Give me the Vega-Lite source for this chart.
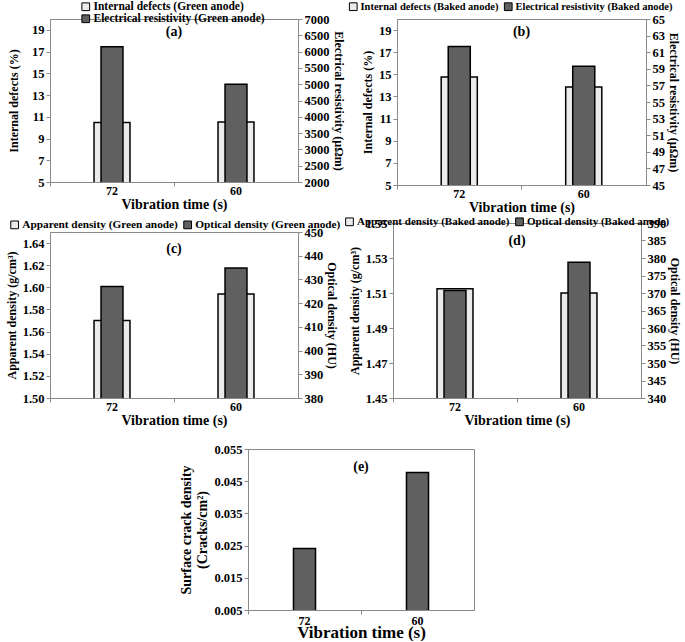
{
  "$schema": "https://vega.github.io/schema/vega-lite/v6.json",
  "padding": {"left": 4, "top": 1, "right": 0, "bottom": 0},
  "background": "white",
  "config": {
    "font": "Liberation Serif",
    "view": {"stroke": "#8a8a8a", "strokeWidth": 1},
    "axis": {"labelFont": "Liberation Serif", "labelFontWeight": "bold", "labelFontSize": 12.5, "labelColor": "black", "titleFont": "Liberation Serif", "titleFontWeight": "bold", "titleFontSize": 12, "titleColor": "black", "domainColor": "#8a8a8a", "tickColor": "#8a8a8a", "grid": false, "tickSize": 4, "labelPadding": 2, "labelOverlap": false, "labelFlush": false},
    "legend": {"labelFont": "Liberation Serif", "labelFontWeight": "bold", "labelFontSize": 11.5, "labelColor": "black", "symbolType": "square", "symbolSize": 60, "symbolStrokeColor": "black", "symbolStrokeWidth": 1, "labelOffset": 2, "columnPadding": 3, "rowPadding": -2, "padding": 0, "title": null, "labelLimit": 400}
  },
  "spacing": 14,
  "resolve": {"scale": {"color": "independent"}},
  "vconcat": [
    {
      "spacing": 1,
      "resolve": {"scale": {"color": "independent"}},
      "vconcat": [
        {
          "spacing": 3,
          "resolve": {"scale": {"color": "independent"}},
          "hconcat": [
            {"vconcat": [
            {
              "width": 248, "height": 163,
              "data": {"values": [{"t": "72", "left": 10.47, "right": 6150}, {"t": "60", "left": 10.53, "right": 5000}]},
              "layer": [
                {"layer": [
                  {"mark": {"type": "bar", "width": {"band": 0.29}, "stroke": "black", "strokeWidth": 1.5, "clip": true},
                   "encoding": {
                     "x": {"field": "t", "type": "nominal", "sort": ["72", "60"], "scale": {"paddingInner": 0, "paddingOuter": 0}, "axis": {"title": "Vibration time (s)", "labelAngle": 0, "bandPosition": 0, "labelPadding": -1, "titlePadding": 1, "labelFontSize": 12, "titleFontSize": 14}},
                     "y": {"field": "left", "type": "quantitative", "scale": {"domain": [5, 20], "nice": false, "zero": false}, "axis": {"values": [5, 7, 9, 11, 13, 15, 17, 19], "format": "d", "labelOverlap": false, "titlePadding": 11, "title": "Internal defects (%)"}},
                     "color": {"datum": "Internal defects (Green anode)", "type": "nominal", "scale": {"domain": ["Internal defects (Green anode)", "Electrical resistivity (Green anode)"], "range": ["#ebebeb", "#606060"]}, "legend": {"orient": "none", "legendX": 30, "legendY": -18, "direction": "vertical"}}
                   }},
                  {"data": {"values": [{"label": "(a)"}]}, "mark": {"type": "text", "fontSize": 14, "fontWeight": "bold", "font": "Liberation Serif"}, "encoding": {"text": {"field": "label"}, "y": {"datum": 18.8, "type": "quantitative", "axis": {"values": [5, 7, 9, 11, 13, 15, 17, 19], "format": "d", "labelOverlap": false, "titlePadding": 11, "title": "Internal defects (%)"}}}}
                ]},
                {"mark": {"type": "bar", "width": {"band": 0.177}, "stroke": "black", "strokeWidth": 1.5, "clip": true},
                 "encoding": {
                   "x": {"field": "t", "type": "nominal", "sort": ["72", "60"]},
                   "y": {"field": "right", "type": "quantitative", "scale": {"domain": [2000, 7000], "nice": false, "zero": false}, "axis": {"orient": "right", "values": [2000, 2500, 3000, 3500, 4000, 4500, 5000, 5500, 6000, 6500, 7000], "format": "d", "titlePadding": 2, "title": "Electrical resistivity (µΩm)"}},
                   "color": {"datum": "Electrical resistivity (Green anode)", "type": "nominal"}
                 }}
              ],
              "resolve": {"scale": {"y": "independent"}}
            }]},
            {"vconcat": [
            {
              "width": 249, "height": 166,
              "data": {"values": [{"t": "72", "left": 14.76, "right": 61.7}, {"t": "60", "left": 13.86, "right": 59.3}]},
              "layer": [
                {"layer": [
                  {"mark": {"type": "bar", "width": {"band": 0.29}, "stroke": "black", "strokeWidth": 1.5, "clip": true},
                   "encoding": {
                     "x": {"field": "t", "type": "nominal", "sort": ["72", "60"], "scale": {"paddingInner": 0, "paddingOuter": 0}, "axis": {"title": "Vibration time (s)", "labelAngle": 0, "bandPosition": 0, "labelPadding": -1, "titlePadding": 1, "labelFontSize": 12, "titleFontSize": 14}},
                     "y": {"field": "left", "type": "quantitative", "scale": {"domain": [5, 20], "nice": false, "zero": false}, "axis": {"values": [5, 7, 9, 11, 13, 15, 17, 19], "format": "d", "labelOverlap": false, "title": "Internal defects (%)"}},
                     "color": {"datum": "Internal defects (Baked anode)", "type": "nominal", "scale": {"domain": ["Internal defects (Baked anode)", "Electrical resistivity (Baked anode)"], "range": ["#ebebeb", "#606060"]}, "legend": {"orient": "none", "legendX": -49, "legendY": -18, "direction": "horizontal", "labelFontSize": 10.5}}
                   }},
                  {"data": {"values": [{"label": "(b)"}]}, "mark": {"type": "text", "fontSize": 14, "fontWeight": "bold", "font": "Liberation Serif"}, "encoding": {"text": {"field": "label"}, "y": {"datum": 18.8, "type": "quantitative", "axis": {"values": [5, 7, 9, 11, 13, 15, 17, 19], "format": "d", "labelOverlap": false, "title": "Internal defects (%)"}}}}
                ]},
                {"mark": {"type": "bar", "width": {"band": 0.177}, "stroke": "black", "strokeWidth": 1.5, "clip": true},
                 "encoding": {
                   "x": {"field": "t", "type": "nominal", "sort": ["72", "60"]},
                   "y": {"field": "right", "type": "quantitative", "scale": {"domain": [45, 65], "nice": false, "zero": false}, "axis": {"orient": "right", "values": [45, 47, 49, 51, 53, 55, 57, 59, 61, 63, 65], "format": "d", "titlePadding": 2, "title": "Electrical resistivity (µΩm)"}},
                   "color": {"datum": "Electrical resistivity (Baked anode)", "type": "nominal"}
                 }}
              ],
              "resolve": {"scale": {"y": "independent"}}
            }]}
          ]
        },
        {
          "spacing": 3,
          "resolve": {"scale": {"color": "independent"}},
          "hconcat": [
            {
              "spacing": 0,
              "vconcat": [
                {"width": 248, "height": 2, "view": {"stroke": null}, "data": {"values": []}, "mark": "point", "encoding": {}},
                {
                  "width": 248, "height": 166,
                  "data": {"values": [{"t": "72", "left": 1.570, "right": 427}, {"t": "60", "left": 1.594, "right": 434.8}]},
                  "layer": [
                    {"layer": [
                      {"mark": {"type": "bar", "width": {"band": 0.29}, "stroke": "black", "strokeWidth": 1.5, "clip": true},
                       "encoding": {
                         "x": {"field": "t", "type": "nominal", "sort": ["72", "60"], "scale": {"paddingInner": 0, "paddingOuter": 0}, "axis": {"title": "Vibration time (s)", "labelAngle": 0, "bandPosition": 0, "labelPadding": -1, "titlePadding": 1, "labelFontSize": 12, "titleFontSize": 14}},
                         "y": {"field": "left", "type": "quantitative", "scale": {"domain": [1.5, 1.65], "nice": false, "zero": false}, "axis": {"values": [1.5, 1.52, 1.54, 1.56, 1.58, 1.6, 1.62, 1.64], "format": ".2f", "labelOverlap": false, "title": "Apparent density (g/cm³)"}},
                         "color": {"datum": "Apparent density (Green anode)", "type": "nominal", "scale": {"domain": ["Apparent density (Green anode)", "Optical density (Green anode)"], "range": ["#ebebeb", "#606060"]}, "legend": {"orient": "none", "legendX": -41, "legendY": -4, "direction": "horizontal", "labelFontSize": 11.3}}
                       }},
                      {"data": {"values": [{"label": "(c)"}]}, "mark": {"type": "text", "fontSize": 14, "fontWeight": "bold", "font": "Liberation Serif"}, "encoding": {"text": {"field": "label"}, "y": {"datum": 1.635, "type": "quantitative", "axis": {"values": [1.5, 1.52, 1.54, 1.56, 1.58, 1.6, 1.62, 1.64], "format": ".2f", "labelOverlap": false, "title": "Apparent density (g/cm³)"}}}}
                    ]},
                    {"mark": {"type": "bar", "width": {"band": 0.177}, "stroke": "black", "strokeWidth": 1.5, "clip": true},
                     "encoding": {
                       "x": {"field": "t", "type": "nominal", "sort": ["72", "60"]},
                       "y": {"field": "right", "type": "quantitative", "scale": {"domain": [380, 450], "nice": false, "zero": false}, "axis": {"orient": "right", "values": [380, 390, 400, 410, 420, 430, 440, 450], "format": "d", "titlePadding": 2, "title": "Optical density (HU)"}},
                       "color": {"datum": "Optical density (Green anode)", "type": "nominal"}
                     }}
                  ],
                  "resolve": {"scale": {"y": "independent"}}
                }
              ]
            },
            {"vconcat": [
            {
              "width": 248, "height": 175,
              "data": {"values": [{"t": "72", "left": 1.5125, "right": 370.7}, {"t": "60", "left": 1.510, "right": 378.8}]},
              "layer": [
                {"layer": [
                  {"mark": {"type": "bar", "width": {"band": 0.29}, "stroke": "black", "strokeWidth": 1.5, "clip": true},
                   "encoding": {
                     "x": {"field": "t", "type": "nominal", "sort": ["72", "60"], "scale": {"paddingInner": 0, "paddingOuter": 0}, "axis": {"title": "Vibration time (s)", "labelAngle": 0, "bandPosition": 0, "labelPadding": -1, "titlePadding": 1, "labelFontSize": 12, "titleFontSize": 14}},
                     "y": {"field": "left", "type": "quantitative", "scale": {"domain": [1.45, 1.55], "nice": false, "zero": false}, "axis": {"values": [1.45, 1.47, 1.49, 1.51, 1.53, 1.55], "format": ".2f", "labelOverlap": false, "title": "Apparent density (g/cm³)"}},
                     "color": {"datum": "Apparent density (Baked anode)", "type": "nominal", "scale": {"domain": ["Apparent density (Baked anode)", "Optical density (Baked anode)"], "range": ["#ebebeb", "#606060"]}, "legend": {"orient": "none", "legendX": -49, "legendY": -7, "direction": "horizontal", "labelFontSize": 11}}
                   }},
                  {"data": {"values": [{"label": "(d)"}]}, "mark": {"type": "text", "fontSize": 14, "fontWeight": "bold", "font": "Liberation Serif"}, "encoding": {"text": {"field": "label"}, "y": {"datum": 1.54, "type": "quantitative", "axis": {"values": [1.45, 1.47, 1.49, 1.51, 1.53, 1.55], "format": ".2f", "labelOverlap": false, "title": "Apparent density (g/cm³)"}}}}
                ]},
                {"mark": {"type": "bar", "width": {"band": 0.177}, "stroke": "black", "strokeWidth": 1.5, "clip": true},
                 "encoding": {
                   "x": {"field": "t", "type": "nominal", "sort": ["72", "60"]},
                   "y": {"field": "right", "type": "quantitative", "scale": {"domain": [340, 390], "nice": false, "zero": false}, "axis": {"orient": "right", "values": [340, 345, 350, 355, 360, 365, 370, 375, 380, 385, 390], "format": "d", "titlePadding": 2, "title": "Optical density (HU)"}},
                   "color": {"datum": "Optical density (Baked anode)", "type": "nominal"}
                 }}
              ],
              "resolve": {"scale": {"y": "independent"}}
            }]}
          ]
        }
      ]
    },
    {
      "spacing": 0,
      "hconcat": [
        {"width": 129, "height": 1, "view": {"stroke": null}, "data": {"values": []}, "mark": "point", "encoding": {}},
        {
          "width": 226, "height": 161,
          "data": {"values": [{"t": "72", "v": 0.0241}, {"t": "60", "v": 0.0477}]},
          "layer": [
            {"mark": {"type": "bar", "width": {"band": 0.195}, "stroke": "black", "strokeWidth": 1.5, "fill": "#606060", "clip": true},
             "encoding": {
               "x": {"field": "t", "type": "nominal", "sort": ["72", "60"], "scale": {"paddingInner": 0, "paddingOuter": 0}, "axis": {"title": "Vibration time (s)", "labelAngle": 0, "bandPosition": 0, "labelPadding": 1, "titlePadding": -2, "labelFontSize": 12, "titleFontSize": 17}},
               "y": {"field": "v", "type": "quantitative", "scale": {"domain": [0.005, 0.055], "nice": false, "zero": false}, "axis": {"values": [0.005, 0.015, 0.025, 0.035, 0.045, 0.055], "format": ".3f", "labelOverlap": false, "title": ["Surface crack density", "(Cracks/cm²)"], "titleFontSize": 14}}
             }},
            {"data": {"values": [{"label": "(e)"}]}, "mark": {"type": "text", "fontSize": 14, "fontWeight": "bold", "font": "Liberation Serif"}, "encoding": {"text": {"field": "label"}, "y": {"datum": 0.0495, "type": "quantitative", "axis": {"values": [0.005, 0.015, 0.025, 0.035, 0.045, 0.055], "format": ".3f", "labelOverlap": false, "title": ["Surface crack density", "(Cracks/cm²)"], "titleFontSize": 14}}}}
          ]
        }
      ]
    }
  ]
}
